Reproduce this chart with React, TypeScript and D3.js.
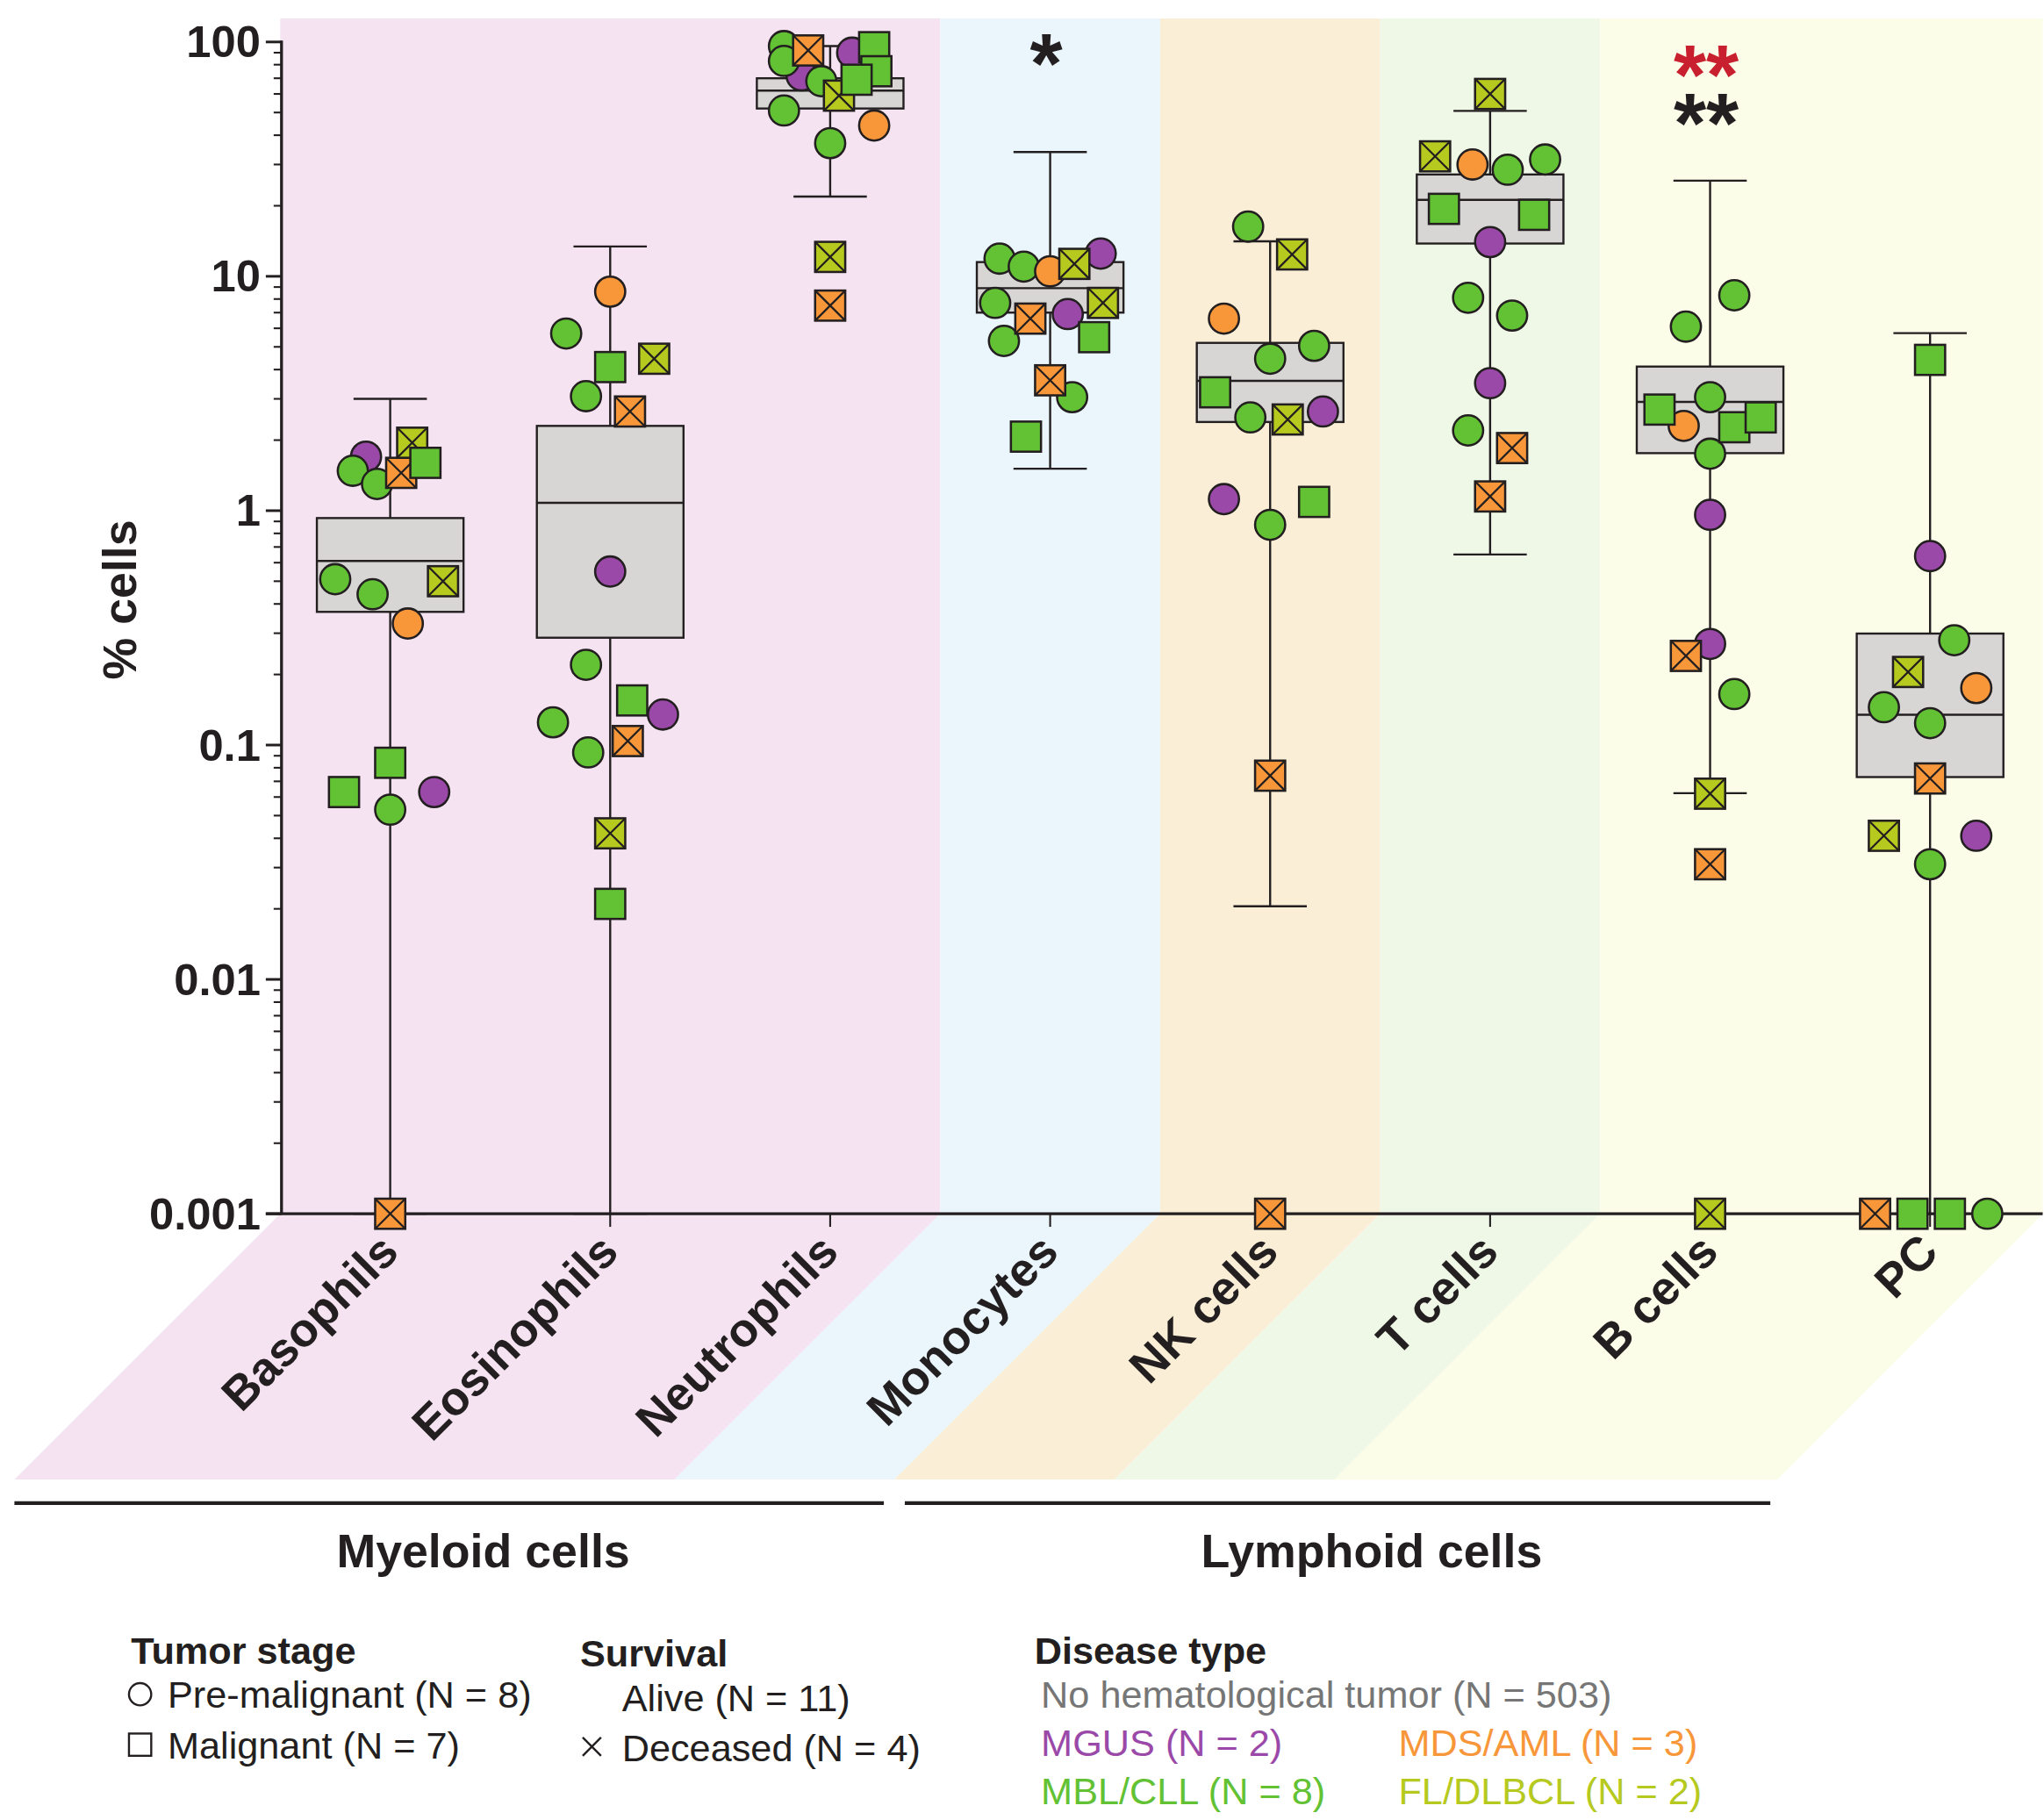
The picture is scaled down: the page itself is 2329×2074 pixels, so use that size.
import React from 'react';
import * as d3 from 'd3';

// categories on the x axis
const categories = ['Basophils', 'Eosinophils', 'Neutrophils', 'Monocytes', 'NK cells', 'T cells', 'B cells', 'PC'];

// reference population (No hematological tumor) box plot stats, % cells
const boxLow = [0.001, 0.001, 21.9, 1.51, 0.0205, 0.65, 0.0623, 0.001];
const boxQ1 = [0.37, 0.287, 52, 7.0, 2.39, 13.8, 1.76, 0.073];
const boxMedian = [0.61, 1.08, 62, 8.9, 3.58, 21.2, 2.91, 0.1346];
const boxQ3 = [0.93, 2.3, 70, 11.5, 5.2, 27.2, 4.12, 0.299];
const boxHigh = [3.0, 13.4, 96, 33.9, 14.1, 50.8, 25.6, 5.72];

// the 15 patients
const patientDisease = [
  'MGUS', 'MGUS', 'MDS/AML', 'MDS/AML', 'MDS/AML', 'FL/DLBCL', 'FL/DLBCL',
  'MBL/CLL', 'MBL/CLL', 'MBL/CLL', 'MBL/CLL', 'MBL/CLL', 'MBL/CLL', 'MBL/CLL', 'MBL/CLL',
];
const patientMalignant = [false, false, false, true, true, true, true, false, false, false, false, false, true, true, true];
const patientDeceased = [false, false, false, true, true, true, true, false, false, false, false, false, false, false, false];

// patient values per cell type (null = not measured)
const basophils = [1.7, 0.063, 0.33, 1.45, 0.001, 1.95, 0.5, 1.48, 1.3, 0.51, 0.44, 0.053, 1.6, 0.084, 0.063];
const eosinophils = [0.55, 0.135, 8.6, 2.65, 0.104, 4.45, 0.042, 5.7, 3.08, 0.22, 0.125, 0.093, 4.1, 0.155, 0.021];
const neutrophils = [72, 90, 44, 92, 7.5, 59, 12.1, 96, 83, 68, 51, 37, 95, 75, 69];
const monocytes = [12.5, 6.9, 10.5, 6.6, 3.6, 11.3, 7.7, 11.9, 11.0, 7.7, 5.3, 3.05, 5.5, 2.07, null];
const nkCells = [2.65, 1.12, 6.6, 0.074, 0.001, 12.4, 2.45, 16.3, 5.05, 4.45, 2.5, 0.87, 3.2, 1.09, null];
const tCells = [14, 3.5, 30, 1.85, 1.15, 60, 32.5, 28.5, 31.5, 8.1, 6.8, 2.2, 19.4, 18.3, null];
const bCells = [0.96, 0.27, 2.3, 0.24, 0.031, 0.062, 0.001, 8.3, 6.1, 3.05, 1.75, 0.165, 2.7, 2.27, 2.5];
const plasmaCells = [0.64, 0.041, 0.175, 0.072, 0.001, 0.205, 0.041, 0.28, 0.145, 0.124, 0.031, 0.001, 4.4, 0.001, 0.001];

// horizontal scatter (fraction of the band width)
const basophilsJitter = [-0.11, 0.2, 0.08, 0.05, 0, 0.1, 0.24, -0.17, -0.06, -0.25, -0.08, 0, 0.16, 0, -0.21];
const eosinophilsJitter = [0, 0.24, 0, 0.09, 0.08, 0.2, 0, -0.2, -0.11, -0.11, -0.26, -0.1, 0, 0.1, 0];
const neutrophilsJitter = [-0.13, 0.1, 0.2, -0.1, 0, 0.04, 0, -0.21, -0.21, -0.04, -0.21, 0, 0.2, 0.21, 0.12];
const monocytesJitter = [0.23, 0.08, 0, -0.09, 0, 0.11, 0.24, -0.23, -0.12, -0.25, -0.21, 0.1, 0.2, -0.11, 0];
const nkCellsJitter = [0.24, -0.21, -0.21, 0, 0, 0.1, 0.08, -0.1, 0.2, 0, -0.09, 0, -0.25, 0.2, 0];
const tCellsJitter = [0, 0, -0.08, 0.1, 0, 0, -0.25, 0.08, 0.25, -0.1, 0.1, -0.1, -0.21, 0.2, 0];
const bCellsJitter = [0, 0, -0.12, -0.11, 0, 0, 0, 0.11, -0.11, 0, 0, 0.11, -0.23, 0.11, 0.23];
const plasmaCellsJitter = [0, 0.21, 0.21, 0, -0.25, -0.1, -0.21, 0.11, -0.21, 0, 0, 0.26, 0, -0.08, 0.09];

const values = [basophils, eosinophils, neutrophils, monocytes, nkCells, tCells, bCells, plasmaCells];
const jitters = [basophilsJitter, eosinophilsJitter, neutrophilsJitter, monocytesJitter, nkCellsJitter, tCellsJitter, bCellsJitter, plasmaCellsJitter];

const drawOrder = [0, 1, 7, 8, 9, 10, 11, 2, 3, 4, 5, 6, 12, 13, 14];

const diseaseNames = ['MGUS', 'MDS/AML', 'MBL/CLL', 'FL/DLBCL'];
const diseaseColors = ['#9b49a8', '#f7973a', '#62c234', '#b6c91f'];
const diseaseCounts = [2, 3, 8, 2];

// background bands and groups
const regionSpans = [['Basophils', 'Neutrophils'], ['Monocytes', 'Monocytes'], ['NK cells', 'NK cells'], ['T cells', 'T cells'], ['B cells', 'PC']];
const regionColors = ['#f5e3f1', '#eaf6fc', '#faefd6', '#eff7e6', '#fbfde8'];
const groupNames = ['Myeloid cells', 'Lymphoid cells'];
const groupSpans = [['Basophils', 'Monocytes'], ['NK cells', 'PC']];

// significance marks: one entry per cell type, rows top to bottom
const starCategories = ['Monocytes', 'B cells'];
const starRows = [['*'], ['**', '**']];
const starRowColors = [['#231f20'], ['#c8202e', '#231f20']];

const W = 1561;
const H = 1390;
const INK = '#231f20';
const FONT = "'Liberation Sans', Arial, Helvetica, sans-serif";

export default function App() {
  const y = d3.scaleLog().domain([0.001, 100]).range([927, 32]);
  const x = d3.scaleBand<string>().domain(categories).range([214, 1558]);
  const bw = x.bandwidth();
  const cx = (c: string) => (x(c) as number) + bw / 2;
  const top = 14;
  const base = y(0.001);
  const slant = 203;
  const bottom = base + slant;

  const ticks = y.ticks();
  const isMajor = (t: number) => Math.abs(Math.log10(t) - Math.round(Math.log10(t))) < 1e-6;
  const fmt = d3.format('~g');

  const r = 11.5;

  const diseaseColor = (d: string) => diseaseColors[diseaseNames.indexOf(d)];

  const marker = (px: number, py: number, p: number, key: string) => {
    const fill = diseaseColor(patientDisease[p]);
    if (!patientMalignant[p]) {
      return <circle key={key} cx={px} cy={py} r={r} fill={fill} stroke={INK} strokeWidth={1.7} />;
    }
    const s = r;
    return (
      <g key={key}>
        <rect x={px - s} y={py - s} width={2 * s} height={2 * s} fill={fill} stroke={INK} strokeWidth={1.7} />
        {patientDeceased[p] && (
          <path
            d={`M${px - s},${py - s}L${px + s},${py + s}M${px + s},${py - s}L${px - s},${py + s}`}
            stroke={INK}
            strokeWidth={1.5}
          />
        )}
      </g>
    );
  };

  return (
    <svg
      width={2329}
      height={2074}
      viewBox={`0 0 ${W} ${H}`}
      style={{ position: 'absolute', left: 0, top: 0, background: '#fff' }}
      fontFamily={FONT}
    >
      {/* background bands */}
      {regionSpans.map((sp, i) => {
        const l = x(sp[0]) as number;
        const rr = (x(sp[1]) as number) + bw + (i === regionSpans.length - 1 ? 2 : 0);
        const pts = [
          [l, top], [rr, top], [rr, base], [rr - slant, bottom], [l - slant, bottom], [l, base],
        ];
        return <polygon key={i} points={pts.map((p) => p.join(',')).join(' ')} fill={regionColors[i]} />;
      })}

      {/* box plots of reference population */}
      {categories.map((c, i) => {
        const m = cx(c);
        const bh = 56;
        const cap = 28;
        return (
          <g key={c} stroke={INK}>
            <line x1={m} x2={m} y1={y(boxHigh[i])} y2={y(boxLow[i])} strokeWidth={1.6} />
            <line x1={m - cap} x2={m + cap} y1={y(boxHigh[i])} y2={y(boxHigh[i])} strokeWidth={1.6} />
            <line x1={m - cap} x2={m + cap} y1={y(boxLow[i])} y2={y(boxLow[i])} strokeWidth={1.6} />
            <rect
              x={m - bh}
              y={y(boxQ3[i])}
              width={2 * bh}
              height={y(boxQ1[i]) - y(boxQ3[i])}
              fill="#d7d6d5"
              strokeWidth={1.6}
            />
            <line x1={m - bh} x2={m + bh} y1={y(boxMedian[i])} y2={y(boxMedian[i])} strokeWidth={1.6} />
          </g>
        );
      })}

      {/* y axis */}
      <line x1={215} x2={215} y1={y(100) - 1} y2={base} stroke={INK} strokeWidth={2.2} />
      {ticks.map((t, i) => (
        <line
          key={i}
          x1={isMajor(t) ? 203 : 209}
          x2={215}
          y1={y(t)}
          y2={y(t)}
          stroke={INK}
          strokeWidth={isMajor(t) ? 2 : 1.4}
        />
      ))}
      {ticks.filter(isMajor).map((t, i) => (
        <text
          key={i}
          x={199}
          y={y(t)}
          textAnchor="end"
          dominantBaseline="central"
          fontSize={34}
          fontWeight="bold"
          fill={INK}
        >
          {fmt(t)}
        </text>
      ))}
      <text
        transform={`translate(104,458) rotate(-90)`}
        textAnchor="middle"
        fontSize={36}
        fontWeight="bold"
        fill={INK}
      >
        % cells
      </text>

      {/* x axis */}
      <line x1={203} x2={1560} y1={base} y2={base} stroke={INK} strokeWidth={2.2} />
      {categories.map((c) => (
        <line key={c} x1={cx(c)} x2={cx(c)} y1={base} y2={base + 10} stroke={INK} strokeWidth={1.4} />
      ))}
      {categories.map((c) => (
        <text
          key={c}
          transform={`translate(${cx(c) + 8},${base + 31}) rotate(-45)`}
          textAnchor="end"
          fontSize={36}
          fontWeight="bold"
          fill={INK}
        >
          {c}
        </text>
      ))}

      {/* patient points */}
      {categories.map((c, i) =>
        drawOrder.map((p) => {
          const v = values[i][p];
          if (v === null || v === undefined) return null;
          return marker(cx(c) + jitters[i][p] * bw, y(v), p, `${c}-${p}`);
        })
      )}

      {/* significance */}
      {starCategories.map((c, i) => (
        <text
          key={c}
          x={cx(c) - 3}
          y={starRows[i].length > 1 ? 79 : 70}
          textAnchor="middle"
          fontSize={64}
          fontWeight="bold"
        >
          {starRows[i].map((s, j) => (
            <tspan key={j} x={cx(c) - 3} dy={j === 0 ? 0 : 37} fill={starRowColors[i][j]}>
              {s}
            </tspan>
          ))}
        </text>
      ))}

      {/* groups */}
      {groupSpans.map((sp, i) => {
        const l = (x(sp[0]) as number) - slant;
        const rr = (x(sp[1]) as number) + bw - slant;
        const x1 = i === 0 ? l : l + 8;
        const x2 = i === 0 ? rr - 8 : rr - 3;
        return (
          <g key={i}>
            <line x1={x1} x2={x2} y1={1148} y2={1148} stroke={INK} strokeWidth={3} />
            <text x={(x1 + x2) / 2 + 26} y={1197} textAnchor="middle" fontSize={36} fontWeight="bold" fill={INK}>
              {groupNames[i]}
            </text>
          </g>
        );
      })}

      {/* legend */}
      <g fontSize={29} fill={INK}>
        <text x={100} y={1271} fontWeight="bold">Tumor stage</text>
        <circle cx={107} cy={1294} r={8.5} fill="none" stroke={INK} strokeWidth={1.6} />
        <text x={128} y={1304}>Pre-malignant (N = 8)</text>
        <rect x={98.5} y={1324} width={17} height={17} fill="none" stroke={INK} strokeWidth={1.6} />
        <text x={128} y={1343}>Malignant (N = 7)</text>

        <text x={443} y={1273} fontWeight="bold">Survival</text>
        <text x={475} y={1307}>Alive (N = 11)</text>
        <path d="M445,1327L459,1341M459,1327L445,1341" stroke={INK} strokeWidth={1.6} />
        <text x={475} y={1345}>Deceased (N = 4)</text>

        <text x={790} y={1271} fontWeight="bold">Disease type</text>
        <text x={795} y={1304} fill="#767676">No hematological tumor (N = 503)</text>
        {diseaseNames.map((d, i) => (
          <text
            key={d}
            x={i % 2 === 0 ? 795 : 1068}
            y={i < 2 ? 1341 : 1378}
            fill={diseaseColors[i]}
          >
            {`${d} (N = ${diseaseCounts[i]})`}
          </text>
        ))}
      </g>
    </svg>
  );
}
